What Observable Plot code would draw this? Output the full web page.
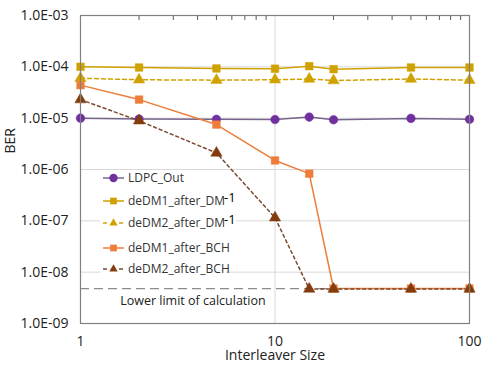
<!DOCTYPE html>
<html>
<head>
<meta charset="utf-8">
<script src="https://cdn.jsdelivr.net/npm/d3@7"></script>
<script src="https://cdn.jsdelivr.net/npm/@observablehq/plot@0.6"></script>
<style>
  html, body { margin: 0; padding: 0; background: #fff; }
  svg { font-family: "Open Sans", sans-serif; }
</style>
</head>
<body>
<div id="chart"></div>
<script>
const interleaver = [1, 2, 5, 10, 15, 20, 50, 100];
const ldpcOut      = [1.0e-5, 9.6e-6, 9.5e-6, 9.4e-6, 1.05e-5, 9.3e-6, 9.9e-6, 9.5e-6];
const deDM1AfterDM = [1.0e-4, 9.7e-5, 9.3e-5, 9.2e-5, 1.03e-4, 9.0e-5, 9.7e-5, 9.7e-5];
const deDM2AfterDM = [6.0e-5, 5.6e-5, 5.5e-5, 5.6e-5, 5.8e-5, 5.4e-5, 5.8e-5, 5.5e-5];
const deDM1AfterBCH = [4.4e-5, 2.3e-5, 7.5e-6, 1.5e-6, 8.3e-7, 4.8e-9, 4.8e-9, 4.8e-9];
const deDM2AfterBCH = [2.3e-5, 8.9e-6, 2.1e-6, 1.15e-7, 4.7e-9, 4.7e-9, 4.7e-9, 4.7e-9];
const lowerLimit = 4.8e-9;
const yTicks = [1e-9, 1e-8, 1e-7, 1e-6, 1e-5, 1e-4, 1e-3];
const xTicks = [1, 10, 100];
const xMinor = [2, 3, 4, 5, 6, 7, 8, 9, 20, 30, 40, 50, 60, 70, 80, 90];

const series = [
  {name: "LDPC_Out", sup: "", values: ldpcOut, color: "#7030A0", line: "#75658a", symbol: "circle", dash: null},
  {name: "deDM1_after_DM", sup: "-1", values: deDM1AfterDM, color: "#CFA200", line: "#CFA200", symbol: "square", dash: null},
  {name: "deDM2_after_DM", sup: "-1", values: deDM2AfterDM, color: "#CFA200", line: "#CFA200", symbol: "triangle", dash: "4,3"},
  {name: "deDM1_after_BCH", sup: "", values: deDM1AfterBCH, color: "#EE7D3A", line: "#EE7D3A", symbol: "square", dash: null},
  {name: "deDM2_after_BCH", sup: "", values: deDM2AfterBCH, color: "#843C0C", line: "#7a4a30", symbol: "triangle", dash: "3,3"}
];

const rows = series.flatMap(s => s.values.map((v, i) => ({series: s.name, x: interleaver[i], y: v})));

const fmtY = d => "1.0E-" + String(-Math.round(Math.log10(d))).padStart(2, "0");

const marks = [
  Plot.gridY(yTicks, {stroke: "#d9d9d9", strokeOpacity: 1}),
  Plot.gridX([10], {stroke: "#d9d9d9", strokeOpacity: 1}),
  Plot.ruleY([lowerLimit], {stroke: "#8c8c8c", strokeWidth: 1.3, strokeDasharray: "9,5"}),
  Plot.text(["Lower limit of calculation"], {x: 1.6, y: 2.7e-9, text: d => d, textAnchor: "start", fontSize: 12.5, fill: "#222"}),
];
for (const s of series) {
  const data = rows.filter(r => r.series === s.name);
  marks.push(Plot.line(data, {x: "x", y: "y", stroke: s.line, strokeWidth: 1.5, strokeDasharray: s.dash}));
}
for (const s of series) {
  const data = rows.filter(r => r.series === s.name);
  marks.push(Plot.dot(data, {x: "x", y: "y", symbol: () => s.symbol, fill: s.color, stroke: s.color, strokeWidth: 0.5,
    r: s.symbol === "circle" ? 4.3 : s.symbol === "square" ? 4.3 : 4.2}));
}
marks.push(
  Plot.frame({stroke: "#808080", strokeWidth: 1.2}),
  Plot.axisY({ticks: yTicks, tickFormat: fmtY, tickSize: 0, tickPadding: 12, fontSize: 14, fill: "#222", label: null}),
  Plot.axisX({ticks: xTicks, tickFormat: d => String(d), tickSize: 0, tickPadding: 13, fontSize: 14, fill: "#222", label: null}),
  Plot.axisX({anchor: "top", ticks: xMinor, tickSize: -4, tickFormat: () => "", stroke: "#595959", label: null}),
  Plot.text(["Interleaver Size"], {frameAnchor: "bottom", dy: 36, text: d => d, fontSize: 14, fill: "#222"}),
  Plot.text(["BER"], {frameAnchor: "left", dx: -70, dy: -16, rotate: -90, text: d => d, fontSize: 14, fill: "#222"})
);

const chart = Plot.plot({
  width: 487,
  height: 366,
  marginLeft: 80,
  marginRight: 18,
  marginTop: 15,
  marginBottom: 43,
  style: {fontFamily: "Open Sans, sans-serif", background: "#fff"},
  x: {type: "log", domain: [1, 100]},
  y: {type: "log", domain: [1e-9, 1e-3]},
  marks
});
document.getElementById("chart").appendChild(chart);

// Legend
const svg = d3.select(chart);
const legY = [178, 201, 223, 248, 269];
const g = svg.append("g").attr("font-family", "Open Sans, sans-serif").attr("text-anchor", "start");
const sym = {circle: d3.symbolCircle, square: d3.symbolSquare, triangle: d3.symbolTriangle};
series.forEach((s, i) => {
  const y = legY[i];
  const row = g.append("g");
  row.append("rect").attr("x", 100).attr("y", y - 8).attr("width", s.sup ? 136 : 126).attr("height", 16).attr("fill", "#fff");
  row.append("line").attr("x1", 103).attr("x2", 124).attr("y1", y).attr("y2", y)
    .attr("stroke", s.line).attr("stroke-width", 1.5)
    .attr("stroke-dasharray", s.dash ? "4,4" : null);
  const size = s.symbol === "circle" ? 55 : s.symbol === "square" ? 45 : 30;
  row.append("path").attr("d", d3.symbol(sym[s.symbol], size)()).attr("transform", `translate(113.5,${y})`).attr("fill", s.color);
  row.append("text").attr("x", 128).attr("y", y).attr("dy", "0.35em").attr("font-size", 12).attr("fill", "#333").text(s.name);
  if (s.sup) {
    row.append("text").attr("x", 224).attr("y", y - 4).attr("dy", "0.35em").attr("font-size", 13).attr("fill", "#000").text(s.sup);
  }
});
</script>
</body>
</html>
